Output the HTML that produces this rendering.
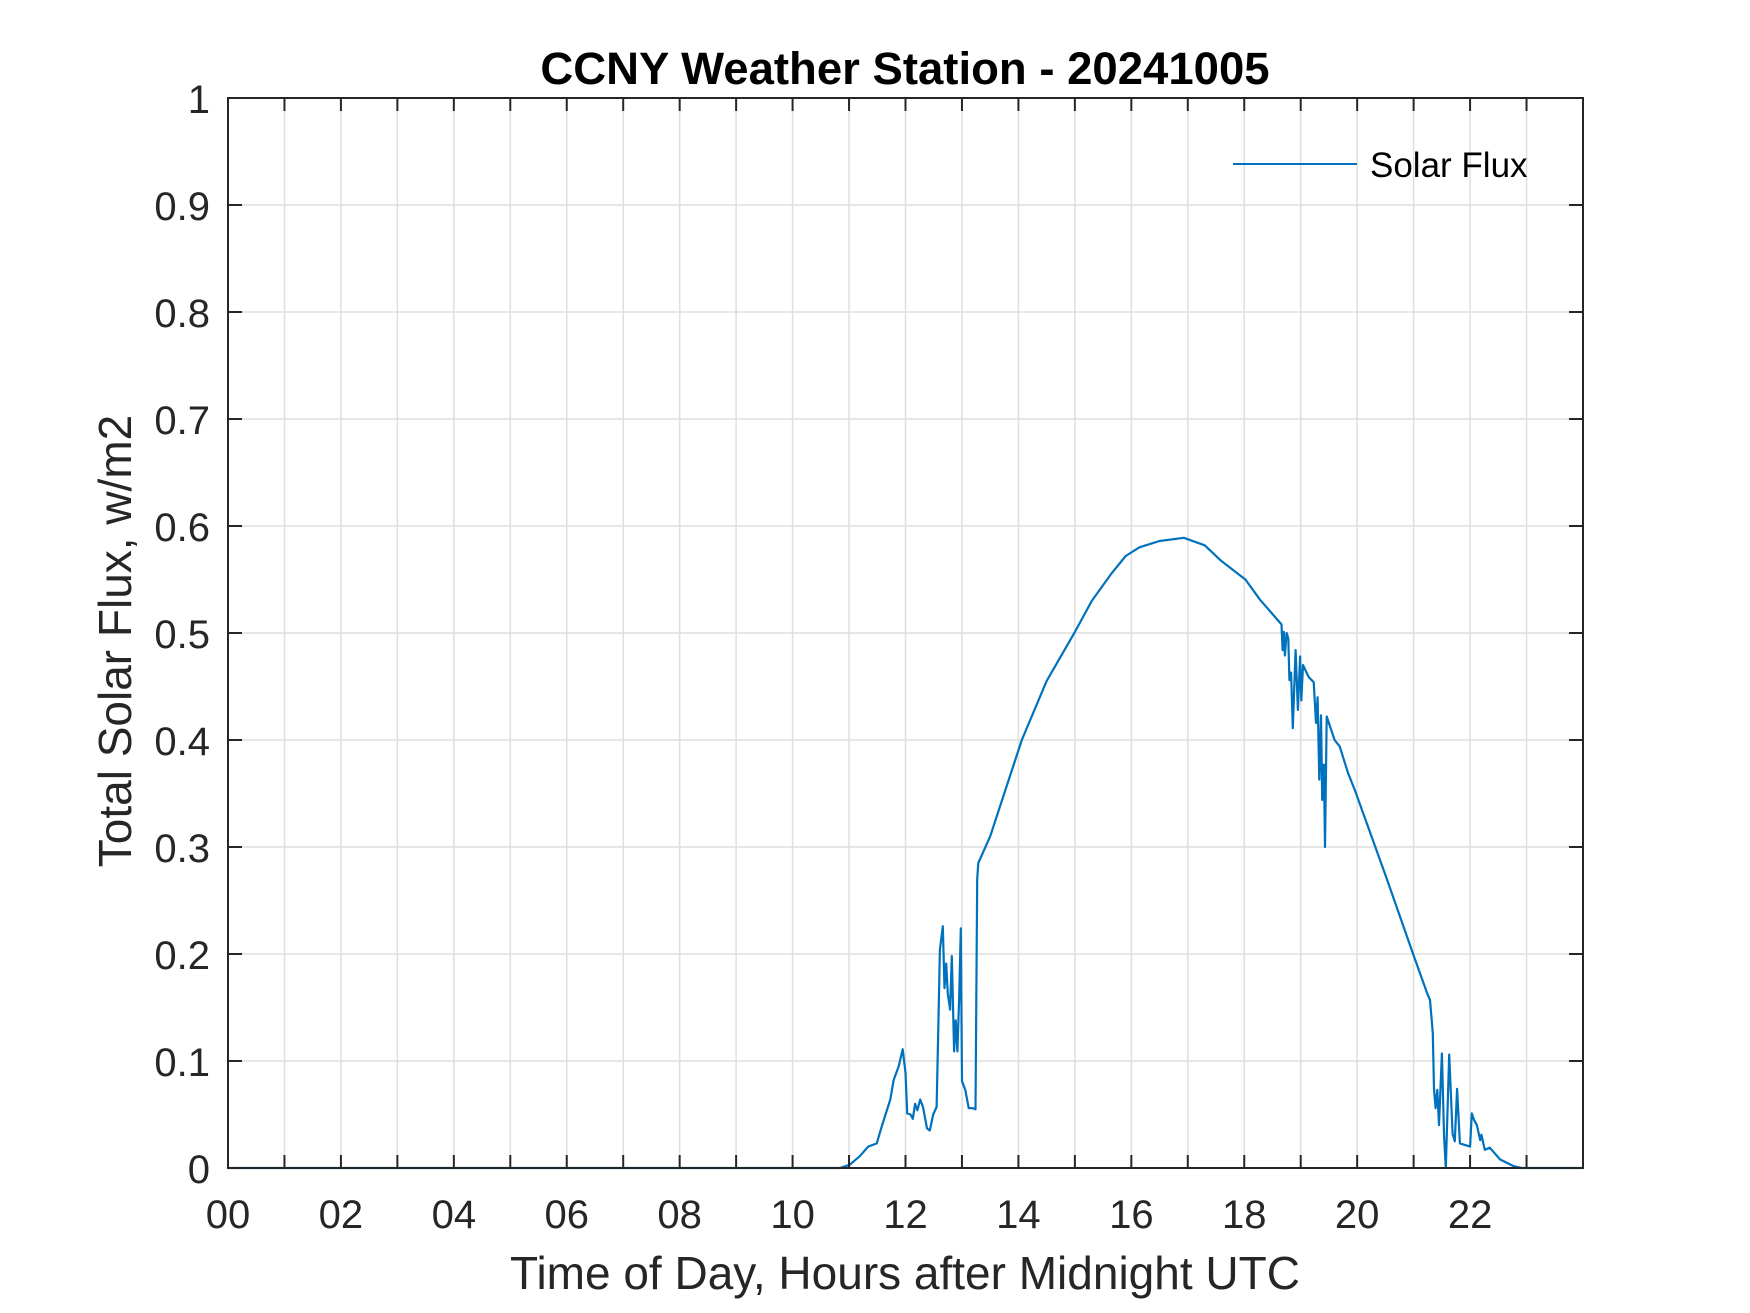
<!DOCTYPE html>
<html><head><meta charset="utf-8">
<style>
html,body{margin:0;padding:0;background:#fff;}
svg{display:block;font-family:"Liberation Sans",Arial,sans-serif;}
</style></head>
<body>
<svg id="chart" width="1750" height="1313" viewBox="0 0 1750 1313" xmlns="http://www.w3.org/2000/svg">
<rect width="1750" height="1313" fill="#fff"/>
<g id="grid"></g>
<g id="series"></g>
<g id="axes"></g>
<text x="905" y="84" text-anchor="middle" font-size="45.5" font-weight="bold" fill="#000">CCNY Weather Station - 20241005</text>
<text x="905" y="1289" text-anchor="middle" font-size="46" fill="#262626">Time of Day, Hours after Midnight UTC</text>
<text transform="translate(131,641) rotate(-90)" text-anchor="middle" font-size="46" fill="#262626">Total Solar Flux, w/m2</text>
<g>
<line x1="1233" y1="164" x2="1357" y2="164" stroke="#0072BD" stroke-width="2"/>
<text x="1370" y="177" font-size="35" fill="#000">Solar Flux</text>
</g>
</svg>
<script>
const hours = [0,10.84,11.01,11.19,11.34,11.49,11.58,11.73,11.79,11.88,11.95,12.00,12.03,12.09,12.13,12.17,12.21,12.26,12.31,12.38,12.43,12.49,12.55,12.58,12.61,12.66,12.69,12.72,12.75,12.79,12.82,12.86,12.89,12.92,12.95,12.98,13.00,13.06,13.12,13.18,13.24,13.27,13.29,13.5,14.06,14.5,14.99,15.3,15.64,15.9,16.14,16.5,16.93,17.3,17.6,18.02,18.28,18.66,18.68,18.70,18.72,18.75,18.78,18.80,18.83,18.86,18.91,18.95,18.99,19.01,19.04,19.14,19.23,19.27,19.30,19.33,19.36,19.38,19.41,19.43,19.46,19.60,19.69,19.84,19.96,20.52,20.99,21.25,21.29,21.34,21.36,21.39,21.42,21.45,21.50,21.54,21.57,21.63,21.69,21.73,21.77,21.82,22.00,22.03,22.07,22.12,22.18,22.20,22.26,22.35,22.53,22.76,22.91,23.99];
const flux = [0,0,0.003,0.011,0.020,0.023,0.039,0.064,0.082,0.095,0.111,0.089,0.051,0.050,0.046,0.060,0.054,0.064,0.057,0.037,0.035,0.050,0.057,0.126,0.204,0.226,0.168,0.191,0.163,0.148,0.198,0.109,0.138,0.109,0.157,0.224,0.081,0.073,0.056,0.056,0.055,0.27,0.285,0.31,0.40,0.455,0.50,0.53,0.555,0.572,0.58,0.586,0.589,0.582,0.567,0.55,0.531,0.508,0.484,0.501,0.479,0.500,0.495,0.456,0.463,0.411,0.484,0.428,0.478,0.437,0.470,0.459,0.454,0.416,0.440,0.363,0.423,0.344,0.377,0.300,0.422,0.400,0.394,0.369,0.353,0.271,0.200,0.162,0.157,0.126,0.074,0.056,0.073,0.040,0.107,0.029,0,0.106,0.032,0.025,0.074,0.023,0.020,0.051,0.045,0.040,0.026,0.031,0.017,0.019,0.008,0.002,0,0];
const xTickLabels = ["00","02","04","06","08","10","12","14","16","18","20","22"];
const yTickLabels = ["0","0.1","0.2","0.3","0.4","0.5","0.6","0.7","0.8","0.9","1"];

const NS="http://www.w3.org/2000/svg";
const L=228,R=1583,T=98,B=1168,XMAX=24,YMAX=1;
const xs=h=>L+(h/XMAX)*(R-L);
const ys=v=>B-(v/YMAX)*(B-T);
function mk(tag,attrs,parent){const e=document.createElementNS(NS,tag);for(const k in attrs)e.setAttribute(k,attrs[k]);parent.appendChild(e);return e;}
const grid=document.getElementById('grid'),axes=document.getElementById('axes'),series=document.getElementById('series');

for(let h=1;h<XMAX;h++){
  const x=xs(h);
  const g=mk('line',{x1:x,y1:T,x2:x,y2:B,stroke:'#dfdfdf','stroke-width':1.5},grid);
  
  
  const t1=mk('line',{x1:x,y1:B,x2:x,y2:B-13,stroke:'#262626','stroke-width':2},axes);
  
  
  const t2=mk('line',{x1:x,y1:T,x2:x,y2:T+13,stroke:'#262626','stroke-width':2},axes);
  
  
}
xTickLabels.forEach((lab,i)=>{
  const t=mk('text',{x:xs(i*2),y:1228,'text-anchor':'middle','font-size':40,fill:'#262626'},axes);
  t.textContent=lab;
  
  
});
yTickLabels.forEach((lab,i)=>{
  const v=i/10,y=ys(v);
  if(i>0&&i<10){
    const g=mk('line',{x1:L,y1:y,x2:R,y2:y,stroke:'#dfdfdf','stroke-width':1.5},grid);
    
    
  }
  const t1=mk('line',{x1:L,y1:y,x2:L+14,y2:y,stroke:'#262626','stroke-width':2},axes);
  
  
  const t2=mk('line',{x1:R,y1:y,x2:R-14,y2:y,stroke:'#262626','stroke-width':2},axes);
  
  
  const t=mk('text',{x:210,y:y+15,'text-anchor':'end','font-size':40,fill:'#262626'},axes);
  t.textContent=lab;
  
  
});
const box=mk('rect',{x:L,y:T,width:R-L,height:B-T,fill:'none',stroke:'#262626','stroke-width':2},axes);



const pts=hours.map((h,i)=>xs(h).toFixed(1)+','+ys(flux[i]).toFixed(1)).join(' ');
const line=mk('polyline',{points:pts,fill:'none',stroke:'#0072BD','stroke-width':2.2,'stroke-linejoin':'round'},series);


</script>
</body></html>
